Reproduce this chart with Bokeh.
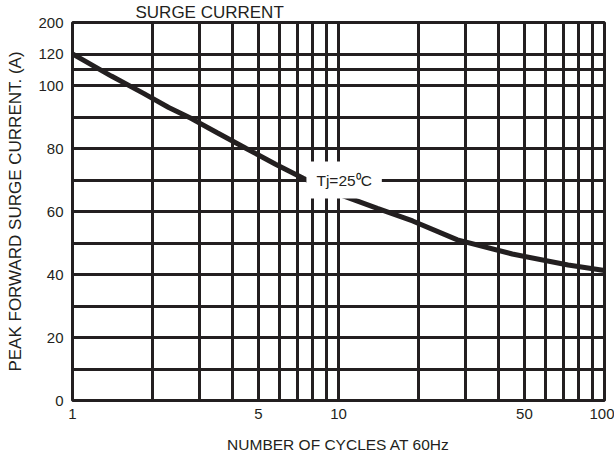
from bokeh.plotting import figure
from bokeh.models import Range1d, FixedTicker, BasicTickFormatter, Label
from bokeh.embed import file_html
from bokeh.resources import INLINE

# ---- data ----
cycles = [1, 1.4, 1.85, 2.3, 2.8, 3.5, 4.5, 5.8, 7.4, 10, 14, 19, 28, 45, 73, 100]
current = [110, 103, 97.5, 93, 89.5, 85, 80, 75, 70.5, 65.5, 61, 57, 51, 46.5, 43, 41.3]

x_ticks = [1, 5, 10, 50, 100]
y_ticks = [0, 20, 40, 60, 80, 100, 110, 120]
y_tick_labels = ["0", "20", "40", "60", "80", "100", "120", "200"]

grid_x = [1, 2, 3, 4, 5, 6, 7, 8, 9, 10, 20, 30, 40, 50, 60, 70, 80, 90, 100]
grid_y = [0, 10, 20, 30, 40, 50, 60, 70, 80, 90, 100, 105, 110, 120]

title_text = "SURGE CURRENT"
x_label = "NUMBER OF CYCLES AT 60Hz"
y_label = "PEAK FORWARD SURGE CURRENT. (A)"
note_text = "Tj=25\u2070C"

INK = "#231f20"
FONT = "Liberation Sans"

p = figure(width=614, height=459, x_axis_type="log",
           x_range=Range1d(1, 100), y_range=Range1d(0, 120),
           output_backend="svg", toolbar_location=None,
           min_border_left=72, min_border_right=10,
           min_border_top=22, min_border_bottom=59,
           title=title_text)

p.title.text_font = FONT
p.title.text_font_size = "17px"
p.title.text_font_style = "normal"
p.title.text_color = INK
p.title.align = "left"
p.title.offset = 63
p.title.standoff = 1

p.background_fill_color = "white"
p.border_fill_color = "white"
p.outline_line_color = INK
p.outline_line_width = 3

# grids
p.xgrid.ticker = FixedTicker(ticks=grid_x)
p.ygrid.ticker = FixedTicker(ticks=grid_y)
for g in (p.xgrid, p.ygrid):
    g.grid_line_color = INK
    g.grid_line_width = 3
    g.grid_line_alpha = 1.0

# axes
p.xaxis.ticker = FixedTicker(ticks=x_ticks)
p.xaxis.formatter = BasicTickFormatter()
p.yaxis.ticker = FixedTicker(ticks=y_ticks)
p.yaxis.major_label_overrides = {t: s for t, s in zip(y_ticks, y_tick_labels)}
p.xaxis.axis_label = x_label
p.yaxis.axis_label = y_label
for ax in (p.xaxis, p.yaxis):
    ax.axis_line_color = None
    ax.major_tick_line_color = None
    ax.minor_tick_line_color = None
    ax.major_tick_out = 0
    ax.major_tick_in = 0
    ax.minor_tick_out = 0
    ax.major_label_text_font = FONT
    ax.major_label_text_font_size = "15px"
    ax.major_label_text_color = INK
    ax.axis_label_text_font = FONT
    ax.axis_label_text_font_style = "normal"
    ax.axis_label_text_color = INK
p.xaxis.axis_label_text_font_size = "15.5px"
p.yaxis.axis_label_text_font_size = "17px"
p.xaxis.major_label_standoff = 8
p.xaxis.axis_label_standoff = 14
p.yaxis.major_label_standoff = 9
p.yaxis.axis_label_standoff = 10

# curve
p.line(cycles, current, line_color=INK, line_width=5)

# annotation with white box
p.add_layout(Label(x=10.5, y=70, text=note_text, text_align="center",
                   text_baseline="middle", text_font=FONT,
                   text_font_size="15.5px", text_color=INK,
                   background_fill_color="white", padding=10))

open("out.html", "w").write(file_html(p, INLINE))
